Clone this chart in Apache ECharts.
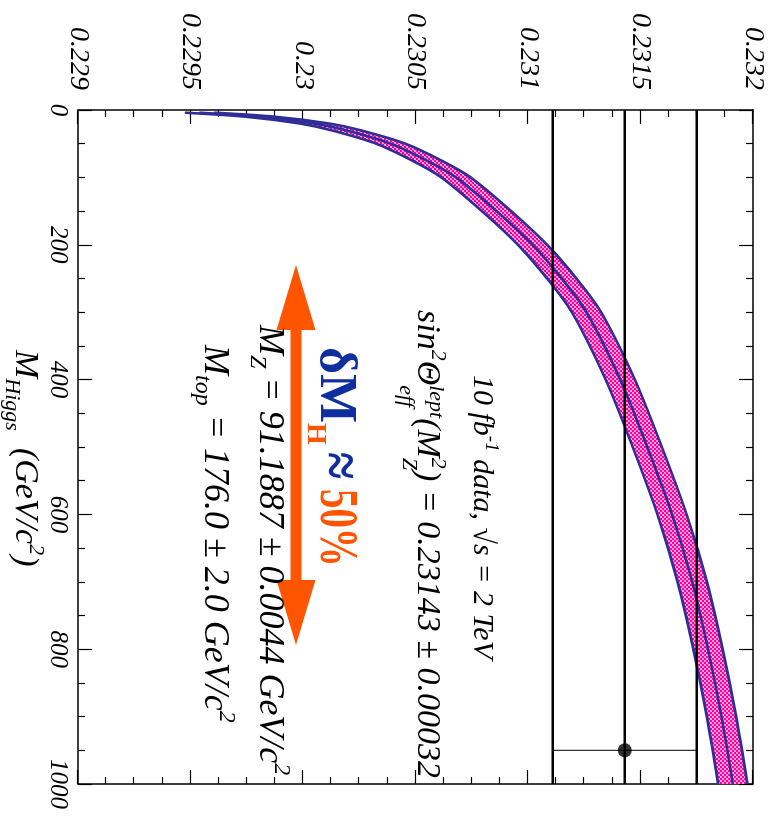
<!DOCTYPE html>
<html><head><meta charset="utf-8">
<script src="https://cdn.jsdelivr.net/npm/echarts@6/dist/echarts.min.js"></script>
<style>
html,body{margin:0;padding:0;width:772px;height:823px;overflow:hidden;background:#fff;}
#chart{position:absolute;left:0;top:0;width:823px;height:772px;transform-origin:0 0;transform:translate(772px,0) rotate(90deg);}
</style></head><body><div id="chart"></div>
<script>
// ---- data ----
const massHiggs  = [4, 10, 20, 30, 50, 75, 100, 150, 200, 250, 300, 400, 500, 600, 700, 800, 900, 1000];
const sinCentral = [0.22954, 0.22981, 0.23005, 0.23019, 0.23039, 0.23055, 0.23068, 0.23086, 0.23102, 0.23115, 0.23126, 0.23141, 0.23153, 0.23164, 0.23173, 0.23180, 0.23186, 0.23191];
const sinUpper   = [0.229605, 0.229875, 0.230115, 0.230255, 0.230455, 0.230615, 0.230745, 0.230925, 0.231085, 0.231215, 0.231325, 0.231475, 0.231595, 0.231705, 0.231795, 0.231865, 0.231925, 0.231975];
const sinLower   = [0.229475, 0.229745, 0.229985, 0.230125, 0.230325, 0.230485, 0.230615, 0.230795, 0.230955, 0.231085, 0.231195, 0.231345, 0.231465, 0.231575, 0.231665, 0.231735, 0.231795, 0.231845];
const measSin     = [0.23111, 0.23143, 0.23175];   // low, central, high
const measMass    = [950];
const massRange   = [0, 1000];
const sinRange    = [0.229, 0.232];
const massTickLabels = ['0', '200', '400', '600', '800', '1000'];
const sinTickLabels  = ['0.229', '0.2295', '0.23', '0.2305', '0.231', '0.2315', '0.232'];

// ---- styling ----
const BLUE_BAND = '#2e2e96';
const ORANGE = '#ff5500';
const BLUE_TXT = '#0f2f9f';
const FONT = 'Liberation Serif';

const pat = document.createElement('canvas'); pat.width = 4; pat.height = 4;
const pc = pat.getContext('2d');
pc.fillStyle = '#ffa0dc'; pc.fillRect(0, 0, 4, 4);
pc.fillStyle = '#ff0099'; pc.fillRect(0, 0, 2, 2); pc.fillRect(2, 2, 2, 2);

const mctx = document.createElement('canvas').getContext('2d');
function run(u0, base, pieces, defaults) {
  let u = u0, prevStart = u0;
  const out = [];
  pieces.forEach(p => {
    const q = Object.assign({fstyle: 'italic', weight: 'normal', color: '#000', dy: 0, sx: 1}, defaults || {}, p);
    mctx.font = q.fstyle + ' ' + q.weight + ' ' + q.fs + 'px "' + FONT + '"';
    const w = mctx.measureText(q.t).width * q.sx;
    const x = q.stack ? prevStart : u;
    out.push({type: 'text', x: x, y: base + q.dy - 0.34 * q.fs, z: 100, silent: true, scaleX: q.sx,
      style: {text: q.t, fontFamily: FONT, fontSize: q.fs, fontStyle: q.fstyle, fontWeight: q.weight,
              fill: q.color, align: 'left', verticalAlign: 'middle'}});
    if (q.stack) { u = Math.max(u, x + w); } else { prevStart = x; u = x + w; }
  });
  return out;
}

const pairs = arr => massHiggs.map((m, i) => [m, arr[i]]);

const axisCommon = {
  axisLine: {show: true, onZero: false, lineStyle: {color: '#000', width: 1.5}},
  axisTick: {show: true, inside: true, length: 14, lineStyle: {color: '#000', width: 1.2}},
  minorTick: {show: true, splitNumber: 4, length: 7, lineStyle: {color: '#000', width: 1.2}},
  splitLine: {show: false}, minorSplitLine: {show: false}
};
const labelStyle = {color: '#000', fontFamily: FONT, fontStyle: 'italic'};

const xBase = {type: 'value', min: massRange[0], max: massRange[1], interval: 200};
const yBase = {type: 'value', min: sinRange[0], max: sinRange[1], interval: 0.0005};

const graphics = [].concat(
  run(375, 300, [{t: '10 fb', fs: 30}, {t: '-1', fs: 19, dy: -13}, {t: ' data, √s = 2 TeV', fs: 30}]),
  run(310, 357, [{t: 'sin', fs: 34}, {t: '2', fs: 22, dy: -15}, {t: 'Θ', fs: 34},
                 {t: 'lept', fs: 22, dy: -13}, {t: 'eff', fs: 22, dy: 17, stack: true},
                 {t: '(M', fs: 34}, {t: '2', fs: 22, dy: -15}, {t: 'Z', fs: 22, dy: 14, stack: true},
                 {t: ') = 0.23143 ± 0.00032', fs: 34}]),
  run(347, 455, [{t: 'δM', fs: 52, color: BLUE_TXT}, {t: 'H', fs: 28, color: ORANGE, dy: 11},
                 {t: ' ', fs: 40, color: ORANGE, sx: 0.72},
                 {t: '≈', fs: 62, color: BLUE_TXT, sx: 0.8, dy: 2},
                 {t: ' 50%', fs: 54, color: ORANGE, sx: 0.72}], {fstyle: 'normal', weight: 'bold'}),
  run(325, 515, [{t: 'M', fs: 36}, {t: 'Z', fs: 24, dy: 8}, {t: ' = 91.1887 ± 0.0044 GeV/c', fs: 36}, {t: '2', fs: 24, dy: -16}]),
  run(345, 570, [{t: 'M', fs: 36}, {t: 'top', fs: 24, dy: 8}, {t: ' = 176.0 ± 2.0 GeV/c', fs: 36}, {t: '2', fs: 24, dy: -16}]),
  run(350, 759, [{t: 'M', fs: 34}, {t: 'Higgs', fs: 22, dy: 9}, {t: '  (GeV/c', fs: 34}, {t: '2', fs: 22, dy: -15}, {t: ')', fs: 34}]),
  [{type: 'polygon', z: 90, silent: true,
    shape: {points: [[265, 476], [330, 456.5], [330, 470.5], [580, 470.5], [580, 456.5], [645, 476],
                     [580, 495.5], [580, 481.5], [330, 481.5], [330, 495.5]]},
    style: {fill: ORANGE}}]
);

const refLine = v => ({type: 'line', data: [[massRange[0], v], [massRange[1], v]], symbol: 'none',
  lineStyle: {color: '#000', width: 2.5}, z: 5, silent: true});

const chart = echarts.init(document.getElementById('chart'), null, {renderer: 'canvas'});
chart.setOption({
  animation: false,
  backgroundColor: '#fff',
  grid: {left: 110, right: 39, top: 19, bottom: 78, outerBoundsMode: 'none', containLabel: false},
  xAxis: [
    Object.assign({}, xBase, axisCommon, {position: 'bottom',
      axisLabel: Object.assign({show: true, margin: 8, fontSize: 25,
        formatter: v => massTickLabels[Math.round(v / 200)]}, labelStyle)}),
    Object.assign({}, xBase, axisCommon, {position: 'top', axisLabel: {show: false}})
  ],
  yAxis: [
    Object.assign({}, yBase, axisCommon, {position: 'left',
      axisLabel: Object.assign({show: true, margin: 20, fontSize: 28,
        formatter: v => sinTickLabels[Math.round((v - sinRange[0]) / 0.0005)]}, labelStyle)}),
    Object.assign({}, yBase, axisCommon, {position: 'right', axisLabel: {show: false}})
  ],
  series: [
    {type: 'custom', coordinateSystem: 'cartesian2d', data: [[massHiggs[0], sinCentral[0]]], z: 1, silent: true, clip: true,
     renderItem: (params, api) => {
       const lo = massHiggs.map((m, i) => api.coord([m, sinLower[i]]));
       const hi = massHiggs.map((m, i) => api.coord([m, sinUpper[i]])).reverse();
       return {type: 'polygon', shape: {points: lo.concat(hi)},
               style: {fill: {image: pat, repeat: 'repeat'}, stroke: null}};
     }},
    {type: 'line', data: pairs(sinLower), symbol: 'none', smooth: 0.3, lineStyle: {color: BLUE_BAND, width: 2.6}, z: 2, silent: true},
    {type: 'line', data: pairs(sinUpper), symbol: 'none', smooth: 0.3, lineStyle: {color: BLUE_BAND, width: 2.6}, z: 2, silent: true},
    {type: 'line', data: pairs(sinCentral), symbol: 'none', smooth: 0.3, lineStyle: {color: BLUE_BAND, width: 2.6}, z: 2, silent: true},
    refLine(measSin[0]), refLine(measSin[1]), refLine(measSin[2]),
    {type: 'line', data: [[measMass[0], measSin[0]], [measMass[0], measSin[2]]], symbol: 'none',
     lineStyle: {color: '#000', width: 1}, z: 6, silent: true},
    {type: 'scatter', data: [[measMass[0], measSin[1]]], symbol: 'circle', symbolSize: 14,
     itemStyle: {color: '#000'}, z: 7, silent: true}
  ],
  graphic: graphics
});
</script></body></html>
